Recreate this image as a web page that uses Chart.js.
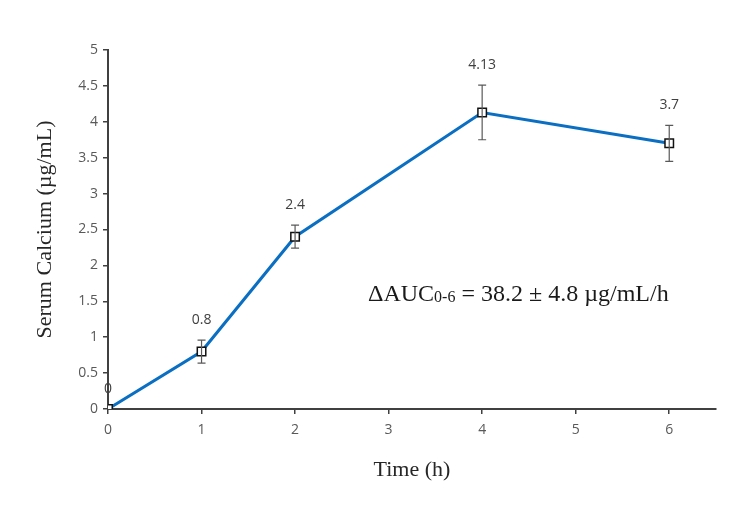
<!DOCTYPE html>
<html>
<head>
<meta charset="utf-8">
<script src="https://cdn.jsdelivr.net/npm/chart.js@4"></script>
<style>
  html, body { margin: 0; padding: 0; background: #fff; }
  #wrap { position: relative; width: 750px; height: 509px; }
  #note {
    position: absolute; left: 368px; top: 280px;
    font-family: "Liberation Serif", serif; font-size: 24px; color: #1a1a1a;
    white-space: nowrap;
  }
  #note sub { font-size: 16px; vertical-align: -1px; }
</style>
</head>
<body>
<div id="wrap">
  <canvas id="chart" width="750" height="509"></canvas>
  <div id="note">&Delta;AUC<sub>0-6</sub> = 38.2 &plusmn; 4.8 &micro;g/mL/h</div>
</div>
<script>
// data
const timeH = [0, 1, 2, 4, 6];
const calcium = [0, 0.8, 2.4, 4.13, 3.7];
const errSd = [0, 0.16, 0.16, 0.38, 0.25];
const pointLabels = ['0', '0.8', '2.4', '4.13', '3.7'];

// error bars drawn through the scales
const errorBars = {
  id: 'errorBars',
  afterDatasetsDraw(chart) {
    const { ctx, scales: { x, y } } = chart;
    ctx.save();
    ctx.strokeStyle = '#595959';
    ctx.lineWidth = 1.2;
    timeH.forEach((t, i) => {
      if (!errSd[i]) return;
      const px = x.getPixelForValue(t);
      const top = y.getPixelForValue(calcium[i] + errSd[i]);
      const bot = y.getPixelForValue(calcium[i] - errSd[i]);
      ctx.beginPath();
      ctx.moveTo(px, top); ctx.lineTo(px, bot);
      ctx.moveTo(px - 4, top); ctx.lineTo(px + 4, top);
      ctx.moveTo(px - 4, bot); ctx.lineTo(px + 4, bot);
      ctx.stroke();
    });
    ctx.restore();
  }
};

// value labels above each point
const valueLabels = {
  id: 'valueLabels',
  afterDraw(chart) {
    const { ctx, scales: { x, y } } = chart;
    ctx.save();
    ctx.font = '14px "Open Sans", sans-serif';
    ctx.fillStyle = '#404040';
    ctx.textAlign = 'center';
    ctx.textBaseline = 'middle';
    timeH.forEach((t, i) => {
      const px = x.getPixelForValue(t);
      const py = y.getPixelForValue(calcium[i] + errSd[i]) - 20;
      ctx.fillText(pointLabels[i], px, py);
    });
    ctx.restore();
  }
};

const ctx = document.getElementById('chart');

new Chart(ctx, {
  type: 'scatter',
  data: {
    datasets: [{
      data: timeH.map((t, i) => ({ x: t, y: calcium[i] })),
      showLine: true,
      borderColor: '#0a6fc2',
      borderWidth: 3,
      pointStyle: 'rect',
      pointRadius: 6,
      pointBorderColor: '#111',
      pointBorderWidth: 1.5,
      pointBackgroundColor: '#fff',
      tension: 0
    }]
  },
  options: {
    responsive: false,
    animation: false,
    layout: { padding: { top: 50, right: 34, bottom: 22, left: 28 } },
    plugins: {
      legend: { display: false },
      tooltip: { enabled: false }
    },
    scales: {
      x: {
        type: 'linear',
        min: 0,
        max: 6.5,
        afterFit(s) { s.height = 78; },
        afterBuildTicks(s) { s.ticks = [0, 1, 2, 3, 4, 5, 6].map(v => ({ value: v })); },
        grid: { drawOnChartArea: false, drawTicks: true, tickLength: 5, color: '#404040', lineWidth: 1.5 },
        border: { display: true, color: '#404040', width: 2 },
        ticks: { color: '#595959', font: { size: 14, family: '"Open Sans", sans-serif' }, padding: 8 },
        title: {
          display: true,
          text: 'Time (h)',
          color: '#262626',
          font: { size: 22, family: '"Liberation Serif", serif' },
          padding: { top: 12 }
        }
      },
      y: {
        min: 0,
        max: 5,
        afterFit(s) { s.width = 80; },
        grid: { drawOnChartArea: false, drawTicks: true, tickLength: 5, color: '#404040', lineWidth: 1.5 },
        border: { display: true, color: '#404040', width: 2 },
        ticks: {
          stepSize: 0.5,
          color: '#595959',
          font: { size: 14, family: '"Open Sans", sans-serif' },
          padding: 5,
          callback: v => String(+v.toFixed(1))
        },
        title: {
          display: true,
          text: 'Serum Calcium (µg/mL)',
          color: '#262626',
          font: { size: 22, family: '"Liberation Serif", serif' },
          padding: { bottom: 10 }
        }
      }
    }
  },
  plugins: [errorBars, valueLabels]
});
</script>
</body>
</html>
